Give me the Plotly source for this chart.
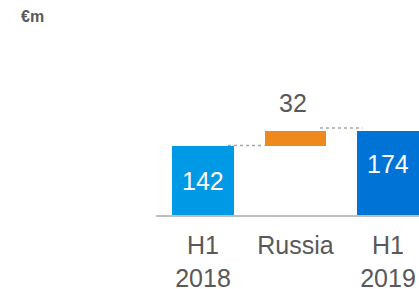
import plotly.graph_objects as go

categories = ["H1<br>2018", "Russia", "H1<br>2019"]
values = [142, 32, 174]
measures = ["absolute", "relative", "total"]
bar_colors = ["#0099E6", "#EE8A1D", "#0073D7"]
unit_label = "€m"

TEXT_GRAY = "#595959"
FONT = "Liberation Sans, Arial, sans-serif"
BAR_W = 0.67

# compute bases from data
bases, tops = [], []
running = 0
for v, m in zip(values, measures):
    if m == "absolute":
        base, top = 0, v
        running = v
    elif m == "relative":
        base, top = running, running + v
        running += v
    else:
        base, top = 0, running
    bases.append(base)
    tops.append(top)

xs = list(range(len(categories)))
fig = go.Figure()
fig.add_trace(go.Bar(
    x=xs, y=[t - b for t, b in zip(tops, bases)], base=bases,
    marker=dict(color=bar_colors, line=dict(width=0)),
    width=BAR_W, hoverinfo="skip",
))

annotations = []
for i, (v, m) in enumerate(zip(values, measures)):
    if m == "relative":
        annotations.append(dict(x=xs[i], y=tops[i], text=str(v), showarrow=False,
                                yanchor="bottom", yshift=12, xshift=-3,
                                font=dict(size=25, color=TEXT_GRAY, family=FONT)))
    else:
        annotations.append(dict(x=xs[i], y=tops[i] / 2, text=str(v), showarrow=False,
                                yanchor="middle", yshift=(9 if m == "total" else 0),
                                font=dict(size=25, color="white", family=FONT)))
annotations.append(dict(xref="paper", yref="paper", x=-0.521, y=0.923,
                        xanchor="left", yanchor="middle", text="<b>" + unit_label + "</b>",
                        showarrow=False, font=dict(size=16, color=TEXT_GRAY, family=FONT)))

shapes = []
for i in range(len(values) - 1):
    lvl = tops[i]
    x0 = xs[i] + BAR_W / 2 - (0.065 if i == 0 else 0.07)
    x1 = xs[i + 1] - BAR_W / 2 + (0.0 if i == 0 else 0.06)
    off = 1 if i == 0 else 3
    shapes.append(dict(type="line", xref="x", yref="y", ysizemode="pixel",
                       yanchor=lvl, y0=off, y1=off,
                       x0=x0, x1=x1, line=dict(color="#A6A6A6", width=1.5, dash="dot"),
                       layer="below"))

fig.update_layout(
    width=419, height=289,
    margin=dict(l=156, r=0, t=0, b=74, autoexpand=False),
    paper_bgcolor="white", plot_bgcolor="white",
    showlegend=False,
    annotations=annotations, shapes=shapes,
    bargap=0,
    xaxis=dict(range=[-0.508, 2.335], tickmode="array", tickvals=xs, ticktext=categories,
               showgrid=False, zeroline=False, showline=True, linecolor="#BFBFBF", linewidth=2,
               ticks="", ticklabelstandoff=7, automargin=False,
               tickfont=dict(size=25, color=TEXT_GRAY, family=FONT), fixedrange=True),
    yaxis=dict(range=[0, 445.5], visible=False, showgrid=False, zeroline=False,
               automargin=False, fixedrange=True),
)

fig.write_html("out.html", config={"displayModeBar": False},
               post_script="document.body.style.margin='0';document.body.style.overflow='hidden';")
